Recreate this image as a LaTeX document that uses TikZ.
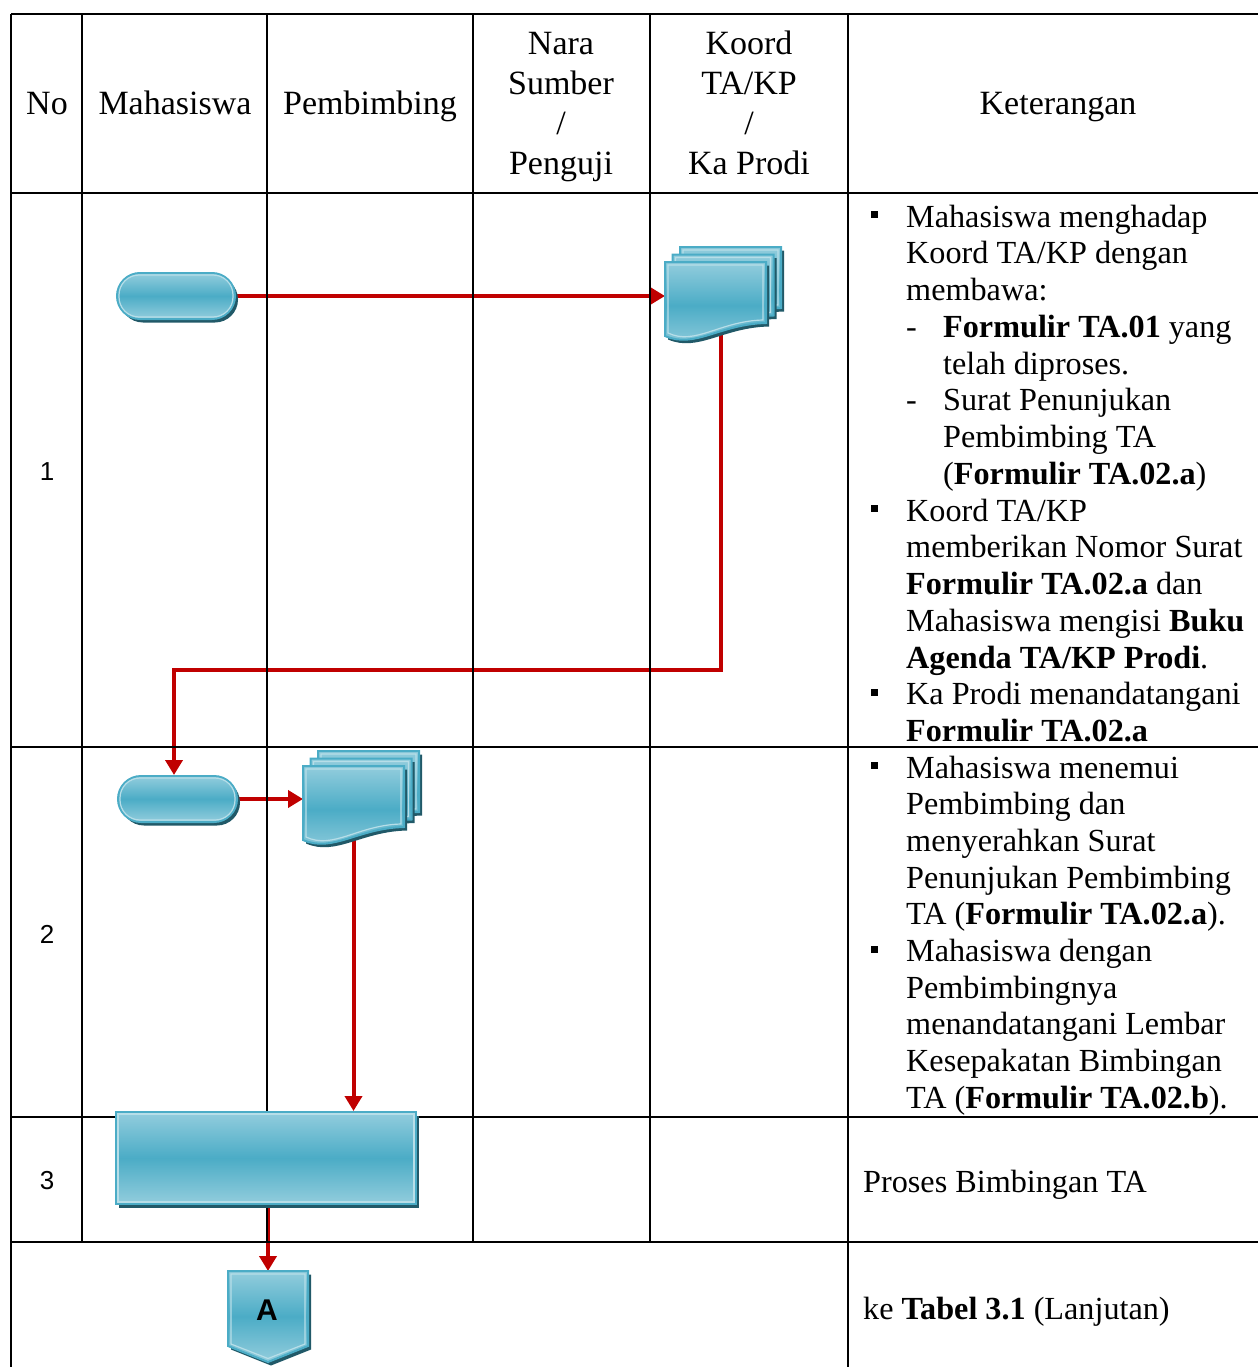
\documentclass[tikz,border=0pt]{standalone}
\usepackage{fontspec}
\setmainfont{Liberation Serif}
\newfontfamily\arialfont{Liberation Sans}
\usetikzlibrary{arrows.meta,shadows,calc}

\definecolor{aqua}{HTML}{4BACC6}
\definecolor{aqualight}{HTML}{93CDDD}
\definecolor{aquahi}{HTML}{B7DEE8}
\definecolor{aquashadow}{HTML}{215968}
\definecolor{flowred}{HTML}{C00000}

\pgfdeclarelayer{flowlayer}
\pgfsetlayers{flowlayer,main}

\tikzset{
  x=1pt, y=-1pt,
  gridline/.style={line width=2.6pt, black},
  flow/.style={line width=4pt, flowred, -{Triangle[length=15pt,width=17pt]}},
  hdr/.style={anchor=base, inner sep=0pt, font=\fontsize{34}{40}\selectfont},
  kt/.style={anchor=base west, inner sep=0pt, font=\fontsize{32.2}{37}\selectfont},
  num/.style={inner sep=0pt, font=\arialfont\fontsize{26}{30}\selectfont},
  aquafill/.style={top color=aqualight, bottom color=aqualight, middle color=aqua},
  aquaedge/.style={draw=aqua, line width=2pt},
  hiline/.style={draw=aquahi, line width=1.2pt},
  aquashade/.style={drop shadow={shadow xshift=3pt, shadow yshift=-3.5pt, fill=aquashadow, opacity=1}},
  terminal/.style={aquafill, aquaedge, aquashade, rounded corners=23pt,
    minimum height=46pt, inner sep=0pt},
  process/.style={aquafill, aquaedge, aquashade, minimum width=300pt,
    minimum height=92pt, inner sep=0pt},
  ghost/.style={inner sep=0pt, outer sep=0pt},
  pics/multidoc/.style={code={
    \foreach \o in {15,7.5,0}{
      \begin{scope}[shift={(\o,-\o)}]
        \fill[aquashadow] (3,3.5) -- (104,3.5) -- (104,64.5)
          .. controls (58,65.5) and (33,90.5) .. (3,77.5) -- cycle;
        \path[aquafill, aquaedge] (0,0) -- (101,0) -- (101,61)
          .. controls (55,62) and (30,87) .. (0,74) -- cycle;
        \draw[hiline] (3,3) -- (98,3) -- (98,58)
          .. controls (55,59) and (30,84) .. (3,71) -- cycle;
      \end{scope}
    }
  }},
}

\begin{document}
\begin{tikzpicture}
\useasboundingbox (0,0) rectangle (1258,1367);

% table grid
\draw[gridline] (11,14) -- (1258,14);
\draw[gridline] (11,193) -- (1258,193);
\draw[gridline] (11,747) -- (1258,747);
\draw[gridline] (11,1117) -- (1258,1117);
\draw[gridline] (11,1242) -- (1258,1242);
\draw[gridline] (11,14) -- (11,1367);
\draw[gridline] (82,14) -- (82,1242);
\draw[gridline] (267,14) -- (267,1242);
\draw[gridline] (473,14) -- (473,1242);
\draw[gridline] (650,14) -- (650,1242);
\draw[gridline] (848,14) -- (848,1367);

% header
\node[hdr] (hno) at (47,115) {No};
\node[hdr] (hmhs) at (175,115) {Mahasiswa};
\node[hdr] (hpbb) at (370,115) {Pembimbing};
\node[hdr] (hnara1) at (561,55) {Nara};
\node[hdr] (hnara2) at (561,95) {Sumber};
\node[hdr] (hnara3) at (561,135) {/};
\node[hdr] (hnara4) at (561,175) {Penguji};
\node[hdr] (hkoord1) at (749,55) {Koord};
\node[hdr] (hkoord2) at (749,95) {TA/KP};
\node[hdr] (hkoord3) at (749,135) {/};
\node[hdr] (hkoord4) at (749,175) {Ka Prodi};
\node[hdr] (hket) at (1058,115) {Keterangan};

% row numbers
\node[num] (n1) at (47,472) {1};
\node[num] (n2) at (47,934) {2};
\node[num] (n3) at (47,1181) {3};

% notes, row 1
\fill (871,211) rectangle ++(7,7);
\fill (871,505) rectangle ++(7,7);
\fill (871,688.75) rectangle ++(7,7);
\node[kt] (a0) at (906,227) {Mahasiswa menghadap};
\node[kt] (a1) at (906,263.75) {Koord TA/KP dengan};
\node[kt] (a2) at (906,300.5) {membawa:};
\node[kt] (d1) at (906,337.25) {-};
\node[kt] (a3) at (943,337.25) {\textbf{Formulir TA.01} yang};
\node[kt] (a4) at (943,374) {telah diproses.};
\node[kt] (d2) at (906,410.75) {-};
\node[kt] (a5) at (943,410.75) {Surat Penunjukan};
\node[kt] (a6) at (943,447.5) {Pembimbing TA};
\node[kt] (a7) at (943,484.25) {(\textbf{Formulir TA.02.a})};
\node[kt] (a8) at (906,521) {Koord TA/KP};
\node[kt] (a9) at (906,557.75) {memberikan Nomor Surat};
\node[kt] (a10) at (906,594.5) {\textbf{Formulir TA.02.a} dan};
\node[kt] (a11) at (906,631.25) {Mahasiswa mengisi \textbf{Buku}};
\node[kt] (a12) at (906,668) {\textbf{Agenda TA/KP Prodi}.};
\node[kt] (a13) at (906,704.75) {Ka Prodi menandatangani};
\node[kt] (a14) at (906,741.5) {\textbf{Formulir TA.02.a}};

% notes, row 2
\fill (871,762) rectangle ++(7,7);
\fill (871,945.5) rectangle ++(7,7);
\node[kt] (b0) at (906,778) {Mahasiswa menemui};
\node[kt] (b1) at (906,814.7) {Pembimbing dan};
\node[kt] (b2) at (906,851.4) {menyerahkan Surat};
\node[kt] (b3) at (906,888.1) {Penunjukan Pembimbing};
\node[kt] (b4) at (906,924.8) {TA (\textbf{Formulir TA.02.a}).};
\node[kt] (b5) at (906,961.5) {Mahasiswa dengan};
\node[kt] (b6) at (906,998.2) {Pembimbingnya};
\node[kt] (b7) at (906,1034.9) {menandatangani Lembar};
\node[kt] (b8) at (906,1071.6) {Kesepakatan Bimbingan};
\node[kt] (b9) at (906,1108.3) {TA (\textbf{Formulir TA.02.b}).};

% notes, rows 3 and 4
\node[kt] (c0) at (863,1192) {Proses Bimbingan TA};
\node[kt] (e0) at (863,1319) {ke \textbf{Tabel 3.1} (Lanjutan)};

% flow shapes
\node[terminal, minimum width=118pt] (start1) at (176,296) {};
\draw[hiline, rounded corners=20pt] ($(start1.north west)+(3,3)$) rectangle ($(start1.south east)+(-3,-3)$);
\node[terminal, minimum width=119pt] (start2) at (177.5,799) {};
\draw[hiline, rounded corners=20pt] ($(start2.north west)+(3,3)$) rectangle ($(start2.south east)+(-3,-3)$);

\pic at (665,262) {multidoc};
\node[ghost, minimum width=101pt, minimum height=73pt] (doc1) at (715.5,298.5) {};
\pic at (303,766) {multidoc};
\node[ghost, minimum width=101pt, minimum height=73pt] (doc2) at (353.5,802.5) {};

\node[process] (proc1) at (266,1158) {};
\draw[hiline] ($(proc1.north west)+(3,3)$) rectangle ($(proc1.south east)+(-3,-3)$);

% off-page connector
\fill[aquashadow] (231,1274.5) -- (311,1274.5) -- (311,1349.5) -- (271,1365.5) -- (231,1349.5) -- cycle;
\path[aquafill, aquaedge] (228,1271) -- (308,1271) -- (308,1346) -- (268,1362) -- (228,1346) -- cycle;
\draw[hiline] (231,1274) -- (305,1274) -- (305,1344) -- (268,1358.5) -- (231,1344) -- cycle;
\node[inner sep=0pt, font=\arialfont\bfseries\fontsize{30}{30}\selectfont] (offA) at (267,1310) {A};
\coordinate (offAtop) at (268,1271);

% connectors
\coordinate (turn1) at (174,670);
\begin{pgfonlayer}{flowlayer}
  \draw[flow] (start1.east) -- (start1.east -| doc1.west);
  \draw[flow] ([xshift=5pt]doc1.south) |- (turn1) -- (turn1 |- start2.north);
  \draw[flow] (start2.east) -- (start2.east -| doc2.west);
  \draw[flow] (doc2.south) -- (doc2.south |- proc1.north);
  \draw[flow] ([xshift=2pt]proc1.south) -- (offAtop);
\end{pgfonlayer}
\end{tikzpicture}
\end{document}
